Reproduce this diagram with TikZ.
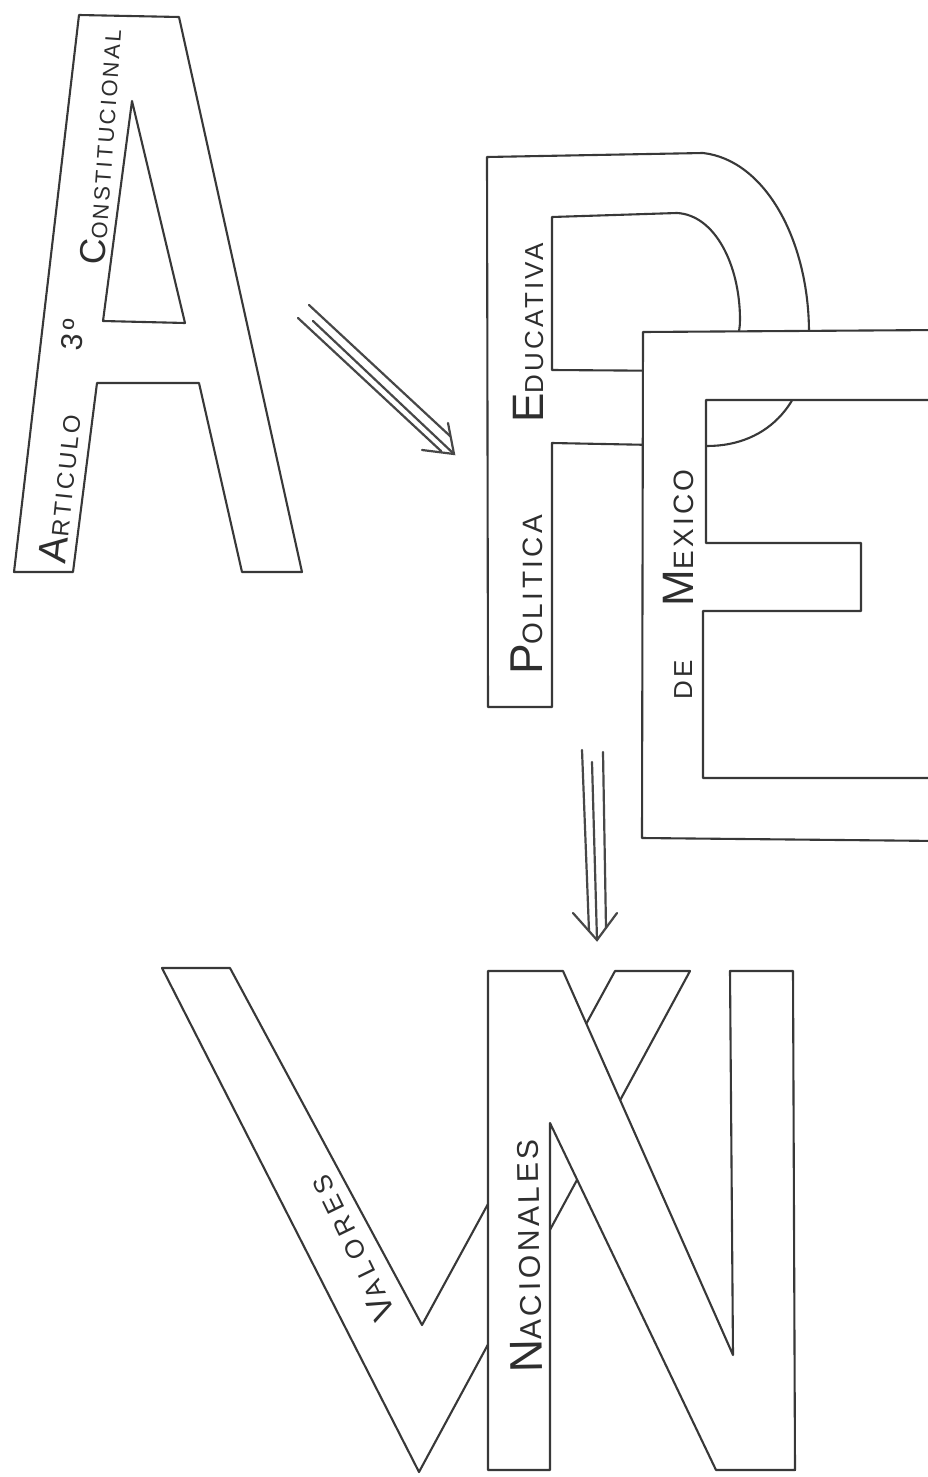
\documentclass[tikz,border=0pt]{standalone}
\usepackage{fontspec}
\newfontfamily\handfont[LetterSpace=12]{Liberation Sans}
\newfontfamily\handwide[LetterSpace=22]{Liberation Sans}
\newcommand{\bsc}[4]{{\handfont\fontsize{#1}{#1}\selectfont #3}{\handfont\fontsize{#2}{#2}\selectfont #4}}
\newcommand{\bscw}[4]{{\handwide\fontsize{#1}{#1}\selectfont #3}{\handwide\fontsize{#2}{#2}\selectfont #4}}
\begin{document}
\begin{tikzpicture}[x=1pt,y=-1pt,
  ink/.style={draw=black!78,line width=2.1pt,line join=round},
  arrowline/.style={draw=black!72,line width=2.2pt,line cap=round},
  lbl/.style={inner sep=0pt,text=black!82,anchor=base}]
\useasboundingbox (0,0) rectangle (928,1477);
\fill[white] (0,0) rectangle (928,1477);
\clip (0,0) rectangle (928,1477);

% Letter A
\path[ink,fill=white,even odd rule] (79,15) -- (179,17) -- (302,572) -- (242,572) -- (199,383) -- (97,383) -- (73,572) -- (14,572) -- cycle
  (132,101) -- (185,323) -- (103,321) -- cycle;

% Letter P (behind E)
\path[ink,fill=white,even odd rule] (488,707) -- (487,157) -- (703,153)
  .. controls (765,160) and (809,240) .. (809,333)
  .. controls (809,400) and (770,446) .. (707,446) -- (552,443) -- (552,707) -- cycle
  (552,217) -- (677,213) .. controls (715,215) and (740,265) .. (740,320)
  .. controls (740,350) and (720,371) .. (690,371) -- (552,370) -- cycle;

% Letter E (in front of P)
\path[ink,fill=white,even odd rule] (643,332) -- (940,330) -- (940,400) -- (706,400) -- (706,543) -- (861,543) -- (861,611) -- (703,611) -- (703,778) -- (940,778) -- (940,841) -- (642,838) -- cycle;

% Letter V (behind N)
\path[ink,fill=white] (162,968) -- (230,968) -- (422,1325) -- (615,971) -- (690,971) -- (419,1472) -- cycle;

% Letter N
\path[ink,fill=white] (488,971) -- (563,971) -- (733,1355) -- (730,971) -- (793,971) -- (795,1470) -- (716,1470) -- (550,1123) -- (550,1470) -- (488,1470) -- cycle;

% Arrow A -> P
\coordinate (a1s) at (309,305);
\coordinate (a1e) at (450,436);
\coordinate (b1s) at (298,318);
\coordinate (b1e) at (441,451);
\coordinate (c1s) at (313,321);
\coordinate (tip1) at (454,454);
\coordinate (arm1l) at (422,450);
\coordinate (arm1u) at (448,423);
\draw[arrowline] (a1s) -- (a1e);
\draw[arrowline] (b1s) -- (b1e);
\draw[arrowline] (c1s) -- (tip1);
\draw[arrowline,line join=miter] (arm1l) -- (tip1) -- (arm1u);

% Arrow PE -> VN
\coordinate (a2s) at (582,750);
\coordinate (a2e) at (589,931);
\coordinate (b2s) at (603,752);
\coordinate (b2e) at (606,928);
\coordinate (c2s) at (592,762);
\coordinate (tip2) at (597,940);
\coordinate (arm2l) at (573,913);
\coordinate (arm2r) at (617,913);
\draw[arrowline] (a2s) -- (a2e);
\draw[arrowline] (b2s) -- (b2e);
\draw[arrowline] (c2s) -- (tip2);
\draw[arrowline,line join=miter] (arm2l) -- (tip2) -- (arm2r);

% Labels
\node[lbl,rotate=84] (articulo) at (73,490) {\bsc{40}{24}{A}{RTICULO}};
\node[lbl,rotate=84] (tercero) at (83,336) {{\handfont\fontsize{30}{30}\selectfont 3º}};
\node[lbl,rotate=86] (constitucional) at (113,148) {\bsc{36}{22}{C}{ONSTITUCIONAL}};
\node[lbl,rotate=90] (politica) at (542,595) {\bsc{46}{28}{P}{OLITICA}};
\node[lbl,rotate=90] (educativa) at (543,333) {\bsc{44}{26}{E}{DUCATIVA}};
\node[lbl,rotate=90] (de) at (692,680) {\bsc{26}{26}{D}{E}};
\node[lbl,rotate=90] (mexico) at (693,538) {\bsc{44}{28}{M}{EXICO}};
\node[lbl,rotate=91] (nacionales) at (540,1256) {\bsc{46}{30}{N}{ACIONALES}};
\node[lbl,rotate=116] (valores) at (362,1243) {\bscw{34}{26}{V}{ALORES}};
\end{tikzpicture}
\end{document}
